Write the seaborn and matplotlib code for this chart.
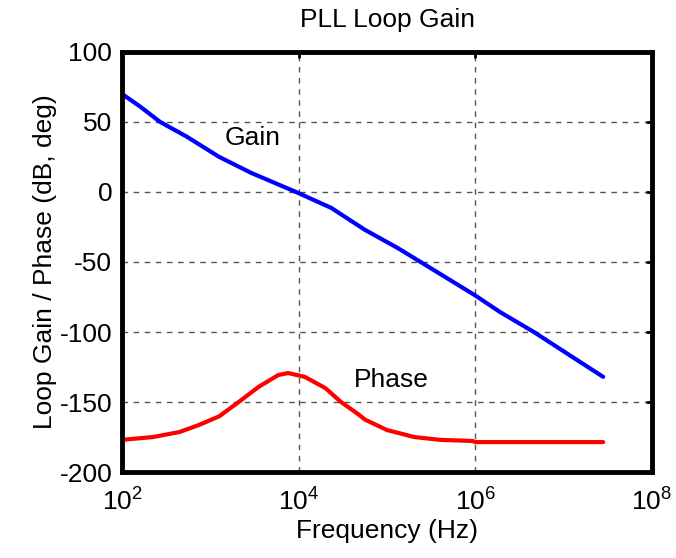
import matplotlib
matplotlib.use("Agg")
import matplotlib.pyplot as plt
import seaborn as sns
import pandas as pd

# values
gain_freq = [100, 160, 270, 540, 1260, 2900, 9300, 23400, 56000, 132000, 240000, 980000, 1.9e6, 4.6e6, 1.07e7, 2.8e7]
gain_db = [70, 61, 50, 39.5, 25, 13.6, 0, -11.4, -27, -40, -50, -73.6, -85.7, -100, -115, -132]

phase_freq = [100, 224, 447, 741, 1260, 2090, 3550, 5890, 7590, 11700, 20000, 30200, 46800, 56200,
              100000, 204000, 398000, 933000, 1.0e6, 2.8e7]
phase_deg = [-177, -175, -171.4, -166.4, -160.2, -150, -139, -130.7, -129.3, -132, -140, -150, -158.5, -162.5,
             -170, -175, -177, -177.8, -178.6, -178.6]

xticks = [1e2, 1e4, 1e6, 1e8]
yticks = [100, 50, 0, -50, -100, -150, -200]

gain_df = pd.DataFrame({"freq": gain_freq, "val": gain_db})
phase_df = pd.DataFrame({"freq": phase_freq, "val": phase_deg})

sns.set_theme(style="white")
plt.rcParams["font.family"] = ["Liberation Sans", "DejaVu Sans"]
plt.rcParams["mathtext.fontset"] = "custom"
plt.rcParams["mathtext.rm"] = "Liberation Sans"
plt.rcParams["mathtext.it"] = "Liberation Sans"
plt.rcParams["axes.unicode_minus"] = False
plt.rcParams["text.color"] = "black"
plt.rcParams["axes.labelcolor"] = "black"

fig = plt.figure(figsize=(6.76, 5.58), dpi=100)
ax = fig.add_axes([0.1805, 0.154, 0.784, 0.753])

sns.lineplot(data=gain_df, x="freq", y="val", ax=ax, color="#0000ff", lw=3, sort=False)
sns.lineplot(data=phase_df, x="freq", y="val", ax=ax, color="#ff0000", lw=3, sort=False)

ax.set_xscale("log")
ax.set_xlim(1e2, 1e8)
ax.set_ylim(-200, 100)
ax.set_xticks(xticks)
ax.set_yticks(yticks)
ax.minorticks_off()
ax.grid(True, color="#555555", ls=(0, (4, 4)), lw=1)

for s in ax.spines.values():
    s.set_color("black")
    s.set_linewidth(3.5)
ax.tick_params(direction="in", length=4, width=2, top=True, right=True, labelsize=19, colors="black")
ax.tick_params(axis="x", pad=12)
ax.tick_params(axis="y", pad=7)

ax.text(3000, 38.6, "Gain", fontsize=19, ha="center", va="center")
ax.text(112000, -134, "Phase", fontsize=19, ha="center", va="center")

ax.set_title("PLL Loop Gain", fontsize=19, pad=18)
ax.set_xlabel("Frequency (Hz)", fontsize=19, labelpad=2)
ax.set_ylabel("Loop Gain / Phase (dB, deg)", fontsize=19, labelpad=2)

fig.savefig("out.png", dpi=100)
